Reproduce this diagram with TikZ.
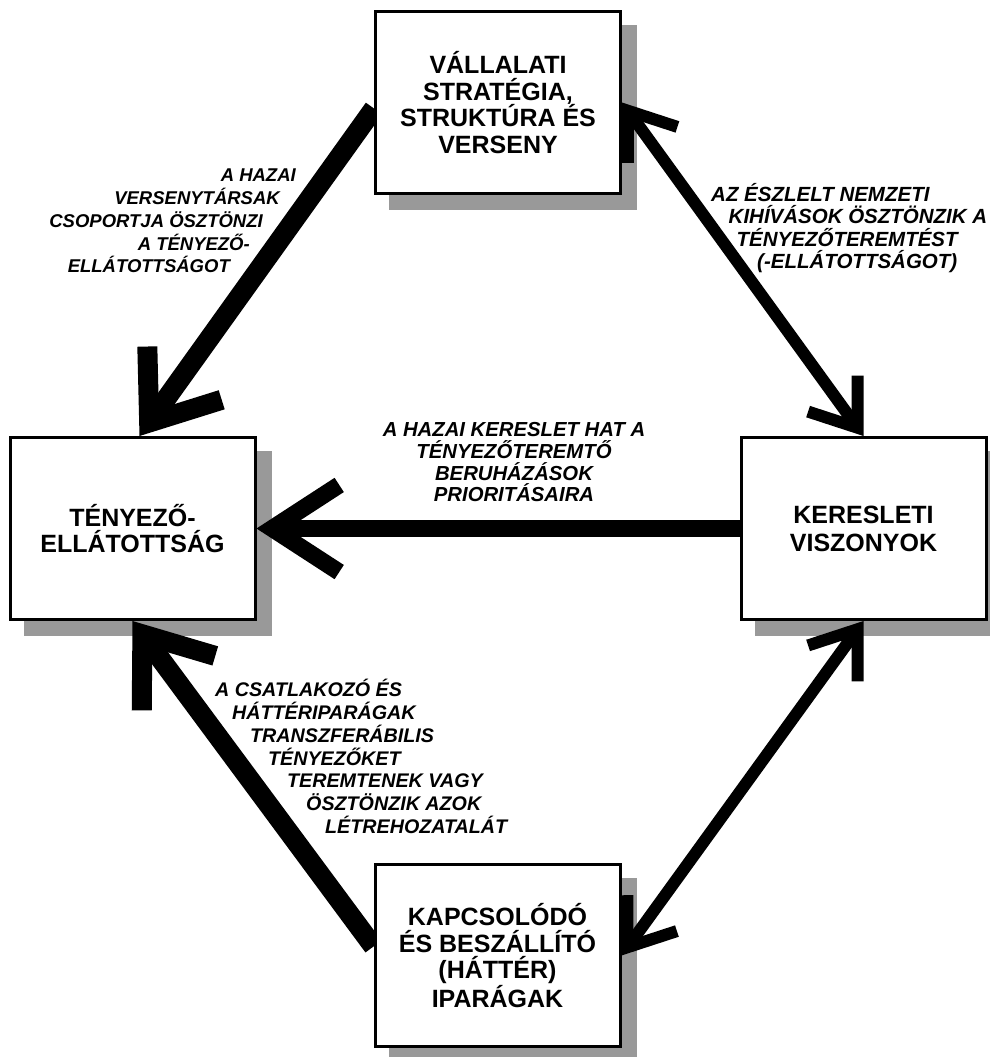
\documentclass[tikz,border=0pt]{standalone}
\usepackage{fontspec}
\setmainfont{Liberation Sans}
\usetikzlibrary{calc}
\pgfdeclarelayer{shadowlayer}
\pgfdeclarelayer{arrowlayer}
\pgfsetlayers{shadowlayer,arrowlayer,main}
\definecolor{shadowgray}{gray}{0.6}
\tikzset{
  box/.style={draw=black, line width=3pt, fill=white, minimum width=245pt,
    minimum height=182pt, inner sep=0pt, align=center,
    font=\fontsize{25pt}{26.5pt}\selectfont\bfseries},
  boxshadow/.style={fill=shadowgray},
  lbl/.style={inner sep=0pt},
  bigline/.style={line width=20pt, line cap=butt},
  midline/.style={line width=17pt, line cap=butt},
  thinline/.style={line width=12pt, line cap=butt},
}
% open V arrowhead: #1 other end, #2 tip, #3 line width, #4 arm length, #5 half angle
\newcommand{\barbhead}[5]{%
  \pgfmathsetmacro{\bhm}{0.5*#3/sin(#5)}%
  \path ($(#2)!\bhm pt!(#1)$) coordinate (bhv);
  \draw[line width=#3pt, line join=miter, line cap=butt]
    ($(bhv)!#4pt!#5:(#1)$) -- (bhv) -- ($(bhv)!#4pt!-#5:(#1)$);}
\begin{document}
\begin{tikzpicture}[x=1pt,y=-1pt]
\useasboundingbox (0,0) rectangle (989,1057);
% boxes
\node[box] (top) at (498,102.5) {VÁLLALATI\\STRATÉGIA,\\STRUKTÚRA ÉS\\VERSENY};
\node[box] (left) at (132.5,528.5) {TÉNYEZŐ-\\ELLÁTOTTSÁG};
\node[box, font=\fontsize{25pt}{28pt}\selectfont\bfseries] (right) at (863.5,528.5) {KERESLETI\\VISZONYOK};
\node[box] (bottom) at (497.5,955.5) {KAPCSOLÓDÓ\\ÉS BESZÁLLÍTÓ\\(HÁTTÉR)\\IPARÁGAK};
\coordinate (s1) at ($(top.west)+(0,6)$);
\coordinate (t1) at ($(left.north)+(7,0)$);
\coordinate (s4) at ($(bottom.west)+(0,-9)$);
% shadows
\begin{pgfonlayer}{shadowlayer}
\foreach \n in {top,left,right,bottom}
  \fill[boxshadow] ($(\n.south west)+(15,15)$) rectangle ($(\n.north east)+(15,15)$);
\end{pgfonlayer}
% connectors
\begin{pgfonlayer}{arrowlayer}
\draw[bigline, shorten >=16pt] (s1) -- (t1);
\barbhead{s1}{t1}{20}{76}{37}
\draw[midline, shorten >=15pt] (right.west) -- (left.east);
\barbhead{right.west}{left.east}{17}{80}{33}
\draw[bigline, shorten >=16pt] (s4) -- (left.south);
\barbhead{s4}{left.south}{20}{76}{37}
\draw[thinline, shorten >=10pt, shorten <=10pt] (top.east) -- (right.north);
\barbhead{right.north}{top.east}{12}{52}{36}
\barbhead{top.east}{right.north}{12}{52}{36}
\draw[thinline, shorten >=10pt, shorten <=10pt] (bottom.east) -- (right.south);
\barbhead{right.south}{bottom.east}{12}{52}{36}
\barbhead{bottom.east}{right.south}{12}{52}{36}
\end{pgfonlayer}
% labels
\node[lbl, font=\fontsize{18.5pt}{22.8pt}\selectfont\bfseries\itshape, align=right, anchor=base east]
  (lab1) at (296,272.9)
  {A HAZAI\\VERSENYTÁRSAK\kern16pt\\CSOPORTJA ÖSZTÖNZI\kern33pt\\A TÉNYEZŐ-\kern46pt\\ELLÁTOTTSÁGOT\kern66pt};
\node[lbl, font=\fontsize{20.5pt}{22.2pt}\selectfont\bfseries\itshape, align=left, anchor=base west]
  (lab2) at (711,268.3)
  {AZ ÉSZLELT NEMZETI\\\hspace*{17.5pt}KIHÍVÁSOK ÖSZTÖNZIK A\\\hspace*{25.5pt}TÉNYEZŐTEREMTÉST\\\hspace*{46pt}(-ELLÁTOTTSÁGOT)};
\node[lbl, font=\fontsize{20.3pt}{21.7pt}\selectfont\bfseries\itshape, align=center, anchor=base]
  (lab3) at (514,501.8)
  {A HAZAI KERESLET HAT A\\TÉNYEZŐTEREMTŐ\\BERUHÁZÁSOK\\PRIORITÁSAIRA};
\node[lbl, font=\fontsize{19.7pt}{22.8pt}\selectfont\bfseries\itshape, align=left, anchor=base west]
  (lab4) at (215,833.5)
  {A CSATLAKOZÓ ÉS\\\hspace*{17pt}HÁTTÉRIPARÁGAK\\\hspace*{35pt}TRANSZFERÁBILIS\\\hspace*{53pt}TÉNYEZŐKET\\\hspace*{72pt}TEREMTENEK VAGY\\\hspace*{91pt}ÖSZTÖNZIK AZOK\\\hspace*{110pt}LÉTREHOZATALÁT};
\end{tikzpicture}
\end{document}
